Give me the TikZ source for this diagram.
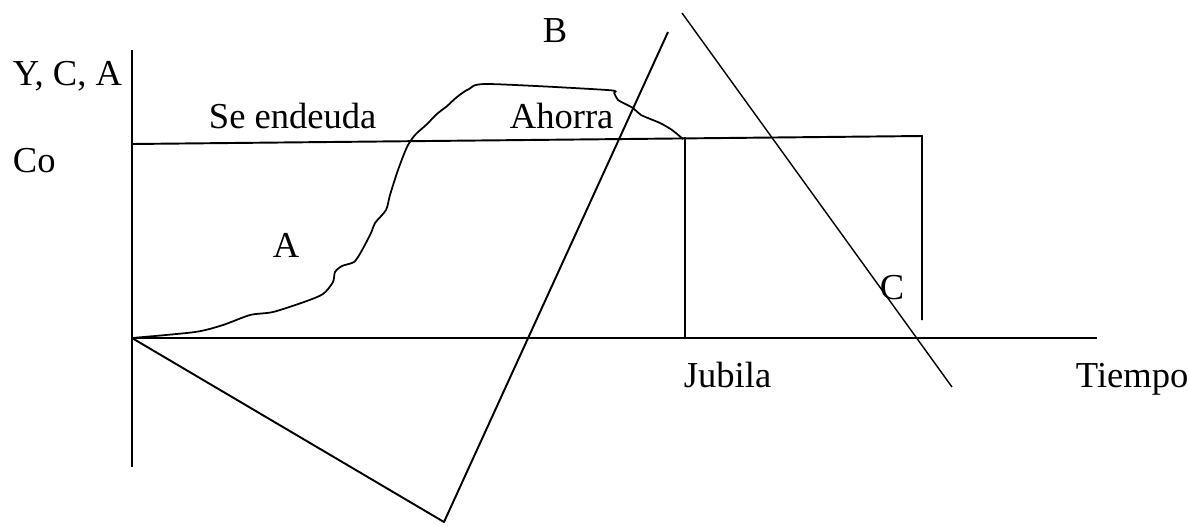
\documentclass[tikz,border=0pt]{standalone}
\usepackage{fontspec}
\setmainfont{Liberation Serif}
\usetikzlibrary{positioning}

\begin{document}
\begin{tikzpicture}[x=0.02cm,y=-0.02cm,line width=1.1pt,line join=round,
  lbl/.style={inner sep=0pt,anchor=base west,font=\fontsize{20.8}{25}\selectfont},
  thinline/.style={line width=0.8pt}]
  \useasboundingbox (0,0) rectangle (1189,525);
  % Points
  \coordinate (O) at (132,338);
  \coordinate (ytop) at (132,50);
  \coordinate (ybot) at (132,467);
  \coordinate (xend) at (1097,338);
  \coordinate (co0) at (132,144);
  \coordinate (co1) at (922,136);
  \coordinate (co2) at (922,320);
  \coordinate (jub0) at (685,137);
  \coordinate (jub1) at (685,338);
  \coordinate (low) at (444,522);
  \coordinate (btop) at (668,32);
  \coordinate (ctop) at (682,13);
  \coordinate (cbot) at (952,387);
  % Labels
  \foreach \name/\x/\y/\txt in {ylab/12/85/{Y, C, A},colab/12/172/Co,blab/542/42/B,
      debt/208/128/Se endeuda,save/509/128/Ahorra,alab/272/257/A,
      clab/879/299/C,retire/683/387/Jubila,time/1075/387/Tiempo}{
    \node[lbl] (\name) at (\x,\y) {\txt};
  }
  % Axes
  \draw (ytop) -- (ybot);
  \draw (O) -- (xend);
  % Co and retirement
  \draw (co0) -- (co1) -- (co2);
  \draw (jub0) -- (jub1);
  % Lines B and C
  \draw (O) -- (low) -- (btop);
  \draw[thinline] (ctop) -- (cbot);
  % Curve A
  \draw[thinline,line width=1pt] plot[smooth,tension=0.45] coordinates {
    (132,338) (195,332) (223,325) (250,315) (273,312) (304,302) (323,294)
    (333,282) (335,272) (342,266) (354,262) (361,252) (371,233) (375,223)
    (386,210) (390,195) (398,170) (407,147) (415,135) (426,125) (438,113)
    (446,107) (457,97) (469,89) (488,84) (607,90) (614,93) (618,100)
    (633,108) (641,115) (660,123) (672,130) (683,139)};
\end{tikzpicture}
\end{document}
